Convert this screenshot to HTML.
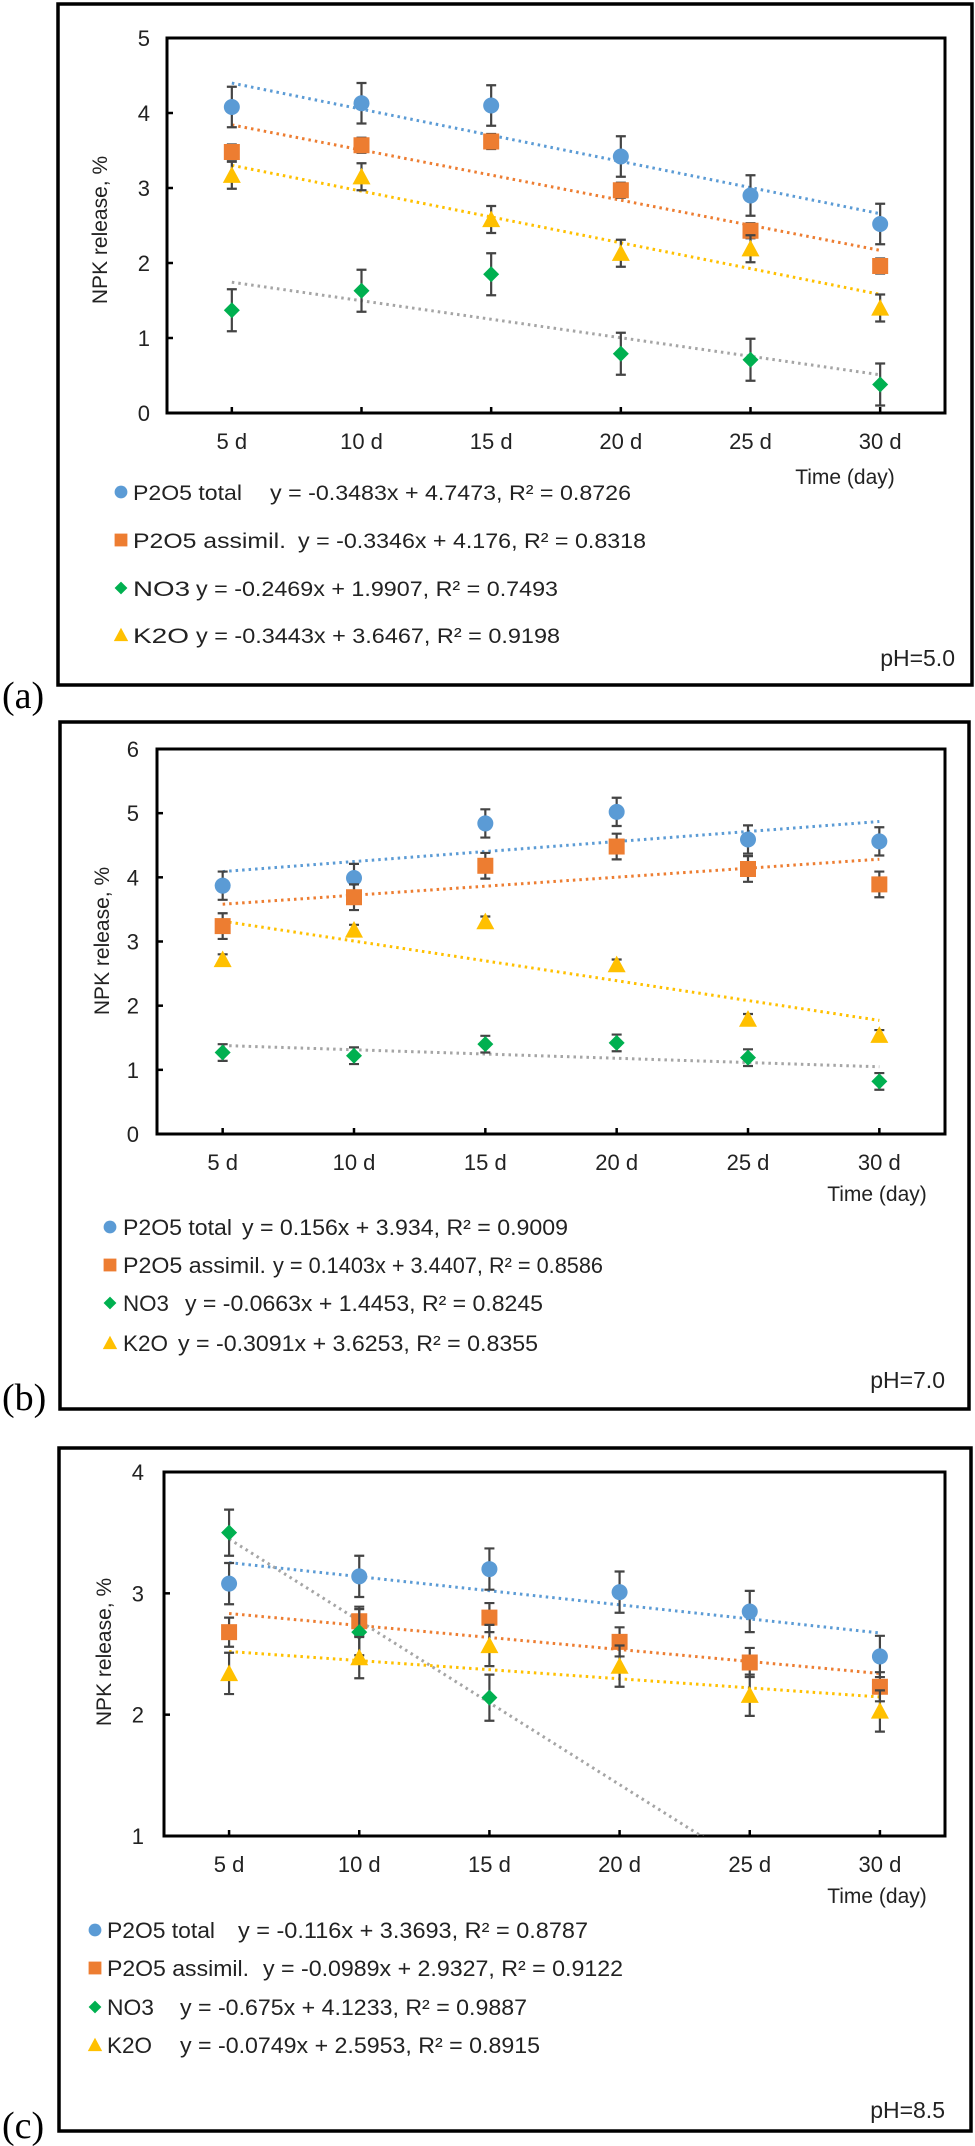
<!DOCTYPE html>
<html><head><meta charset="utf-8">
<style>
html,body{margin:0;padding:0;background:#fff;}
svg{display:block;font-family:"Liberation Sans",Arial,sans-serif;}
</style></head>
<body>
<svg id="fig" width="975" height="2146" viewBox="0 0 975 2146" xmlns="http://www.w3.org/2000/svg"></svg>
<script>
// ---------- data ----------
const categories = ["5 d","10 d","15 d","20 d","25 d","30 d"];
const seriesNames = ["P2O5 total","P2O5 assimil.","NO3","K2O"];

// panel a (pH 5.0)
const aTotal   = [4.08,4.13,4.10,3.42,2.90,2.52];
const aAssimil = [3.48,3.57,3.62,2.97,2.43,1.96];
const aNO3     = [1.37,1.63,1.85,0.79,0.71,0.38];
const aK2O     = [3.17,3.15,2.58,2.13,2.19,1.40];
const aErr     = [0.27,0.10,0.28,0.18];
const aSlope   = [-0.3483,-0.3346,-0.2469,-0.3443];
const aIntercept = [4.7473,4.176,1.9907,3.6467];
const aEq = ["y = -0.3483x + 4.7473, R² = 0.8726","y = -0.3346x + 4.176, R² = 0.8318","y = -0.2469x + 1.9907, R² = 0.7493","y = -0.3443x + 3.6467, R² = 0.9198"];
const aTicks = [0,1,2,3,4,5];

// panel b (pH 7.0)
const bTotal   = [3.87,3.99,4.84,5.02,4.59,4.56];
const bAssimil = [3.24,3.69,4.18,4.48,4.13,3.89];
const bNO3     = [1.27,1.22,1.40,1.42,1.19,0.82];
const bK2O     = [2.72,3.18,3.31,2.64,1.79,1.54];
const bErr     = [0.22,0.20,0.13,0.08];
const bSlope   = [0.156,0.1403,-0.0663,-0.3091];
const bIntercept = [3.934,3.4407,1.4453,3.6253];
const bEq = ["y = 0.156x + 3.934, R² = 0.9009","y = 0.1403x + 3.4407, R² = 0.8586","y = -0.0663x + 1.4453, R² = 0.8245","y = -0.3091x + 3.6253, R² = 0.8355"];
const bTicks = [0,1,2,3,4,5,6];

// panel c (pH 8.5)
const cTotal   = [3.08,3.14,3.20,3.01,2.85,2.48];
const cAssimil = [2.68,2.77,2.80,2.60,2.43,2.23];
const cNO3     = [3.50,2.68,2.14,null,null,null];
const cK2O     = [2.34,2.47,2.57,2.40,2.16,2.03];
const cErr     = [0.17,0.12,0.19,0.17];
const cSlope   = [-0.116,-0.0989,-0.675,-0.0749];
const cIntercept = [3.3693,2.9327,4.1233,2.5953];
const cEq = ["y = -0.116x + 3.3693, R² = 0.8787","y = -0.0989x + 2.9327, R² = 0.9122","y = -0.675x + 4.1233, R² = 0.9887","y = -0.0749x + 2.5953, R² = 0.8915"];
const cTicks = [1,2,3,4];

// ---------- drawing ----------
const NS="http://www.w3.org/2000/svg";
const svg=document.getElementById('fig');
const markerColors=["#5b9bd5","#ed7d31","#00b050","#ffc000"];
const lineColors=["#5b9bd5","#ed7d31","#a5a5a5","#ffc000"];
const shapes=["circle","square","diamond","triangle"];
function mk(tag,attrs,parent){const e=document.createElementNS(NS,tag);for(const k in attrs)e.setAttribute(k,attrs[k]);(parent||svg).appendChild(e);return e;}
function txt(parent,x,y,s,size,anchor,extra){const t=mk('text',Object.assign({x:x,y:y,'font-size':size,'text-anchor':anchor||'start',fill:'#222'},extra||{}),parent);t.textContent=s;return t;}
function marker(g,shape,x,y,color,scale){
  let e;
  if(shape==="circle"){e=mk('circle',{cx:x,cy:y,r:8*scale,fill:color},g);}
  else if(shape==="square"){const s=8*scale;e=mk('rect',{x:x-s,y:y-s,width:2*s,height:2*s,fill:color},g);}
  else if(shape==="diamond"){const s=8*scale;e=mk('polygon',{points:`${x},${y-s} ${x+s},${y} ${x},${y+s} ${x-s},${y}`,fill:color},g);}
  else {const s=9*scale;e=mk('polygon',{points:`${x},${y-s} ${x+s},${y+s*0.85} ${x-s},${y+s*0.85}`,fill:color},g);}
  return e;
}

function panel(cfg){
  const g=mk('g',{});
  
  
  const box=mk('rect',{x:cfg.box[0],y:cfg.box[1],width:cfg.box[2]-cfg.box[0],height:cfg.box[3]-cfg.box[1],fill:'none',stroke:'#000','stroke-width':3.5},g);
  
  
  const [L,T,R,B]=cfg.plot;
  const ymin=cfg.ticks[0], ymax=cfg.ticks[cfg.ticks.length-1];
  const n=categories.length, bw=(R-L)/n;
  const xs=i=>L+bw*(i+0.5);
  const xv=x=>L+bw*(x-0.5);
  const ys=v=>B-(v-ymin)/(ymax-ymin)*(B-T);
  // defs clip
  const cid='clip'+cfg.id;
  const cp=mk('clipPath',{id:cid},g); mk('rect',{x:L,y:T,width:R-L,height:B-T},cp);
  // plot frame
  const pf=mk('rect',{x:L,y:T,width:R-L,height:B-T,fill:'none',stroke:'#000','stroke-width':3},g);
  
  
  // y ticks
  cfg.ticks.forEach(v=>{
    mk('line',{x1:L,x2:L+6,y1:ys(v),y2:ys(v),stroke:'#000','stroke-width':2.5},g);
    const t=txt(g,cfg.tickX,ys(v)+8,String(v),22,'end');
    
    
  });
  // x ticks
  categories.forEach((c,i)=>{
    mk('line',{x1:xs(i),x2:xs(i),y1:B,y2:B-6,stroke:'#000','stroke-width':2.5},g);
    const t=txt(g,xs(i),cfg.xLabY,c,22,'middle');
    
    
  });
  const tt=txt(g,cfg.timeX,cfg.timeY,"Time (day)",21,'middle');
  
  
  const yt=txt(g,0,0,"NPK release, %",21,'middle',{transform:`translate(${cfg.ytX},${cfg.ytY}) rotate(-90)`});
  
  
  // trendlines
  const tg=mk('g',{'clip-path':`url(#${cid})`},g);
  cfg.slope.forEach((s,k)=>{
    const l=mk('line',{x1:xv(1),y1:ys(s*1+cfg.intercept[k]),x2:xv(6),y2:ys(s*6+cfg.intercept[k]),stroke:lineColors[k],'stroke-width':3,'stroke-dasharray':'2.5 4'},tg);
    
    
  });
  // series
  cfg.series.forEach((vals,k)=>{
    const sg=mk('g',{},g);
    
    
    vals.forEach((v,i)=>{
      if(v===null) return;
      const x=xs(i), e=cfg.err[k];
      const eb=mk('path',{d:`M${x},${ys(v+e)}V${ys(v-e)}M${x-5},${ys(v+e)}H${x+5}M${x-5},${ys(v-e)}H${x+5}`,stroke:'#444','stroke-width':2.2,fill:'none'},sg);
      
      
      const m=marker(sg,shapes[k],x,ys(v),markerColors[k],1);
      
      
    });
  });
  // legend
  cfg.eq.forEach((eq,k)=>{
    const lg=mk('g',{},g);
    
    
    const y=cfg.legY[k];
    marker(lg,shapes[k],cfg.legMX,y,markerColors[k],0.8);
    const lab=txt(lg,cfg.legTX,y+8,seriesNames[k],cfg.legFS,'start',{textLength:cfg.labW[k],lengthAdjust:'spacingAndGlyphs'});
    const e=txt(lg,cfg.eqX[k],y+8,eq,cfg.legFS,'start',{textLength:cfg.eqW[k],lengthAdjust:'spacingAndGlyphs'});
  });
  const ph=txt(g,cfg.phX,cfg.phY,cfg.ph,23,'end');
  
  
  const pl=txt(g,2,cfg.lblY,cfg.lbl,38,'start',{'font-family':'"Liberation Serif",serif',fill:'#000'});
  
  
}

panel({id:'a',name:'panel-a-ph5',box:[58,4,972,685],plot:[167,38,945,413],ticks:aTicks,tickX:150,xLabY:449,timeX:845,timeY:484,ytX:107,ytY:230,
  slope:aSlope,intercept:aIntercept,series:[aTotal,aAssimil,aNO3,aK2O],err:aErr,eq:aEq,
  legY:[492,540,588,635],legMX:121,legTX:133,legFS:21,labW:[109,153,57,56],eqX:[270,298,196,196],eqW:[361,348,362,364],
  ph:"pH=5.0",phX:955,phY:666,lbl:"(a)",lblY:708});
panel({id:'b',name:'panel-b-ph7',box:[60,722,969,1409],plot:[157,749,945,1134],ticks:bTicks,tickX:139,xLabY:1170,timeX:877,timeY:1201,ytX:109,ytY:941,
  slope:bSlope,intercept:bIntercept,series:[bTotal,bAssimil,bNO3,bK2O],err:bErr,eq:bEq,
  legY:[1227,1265,1303,1343],legMX:110,legTX:123,legFS:22,labW:[109,143,46,45],eqX:[242,273,185,178],eqW:[326,330,358,360],
  ph:"pH=7.0",phX:945,phY:1388,lbl:"(b)",lblY:1410});
panel({id:'c',name:'panel-c-ph8-5',box:[59,1448,971,2131],plot:[164,1472,945,1836],ticks:cTicks,tickX:144,xLabY:1872,timeX:877,timeY:1903,ytX:111,ytY:1652,
  slope:cSlope,intercept:cIntercept,series:[cTotal,cAssimil,cNO3,cK2O],err:cErr,eq:cEq,
  legY:[1930,1968,2007,2045],legMX:95,legTX:107,legFS:22,labW:[108,142,47,45],eqX:[238,263,180,180],eqW:[350,360,347,360],
  ph:"pH=8.5",phX:945,phY:2118,lbl:"(c)",lblY:2138});
</script>
</body></html>
